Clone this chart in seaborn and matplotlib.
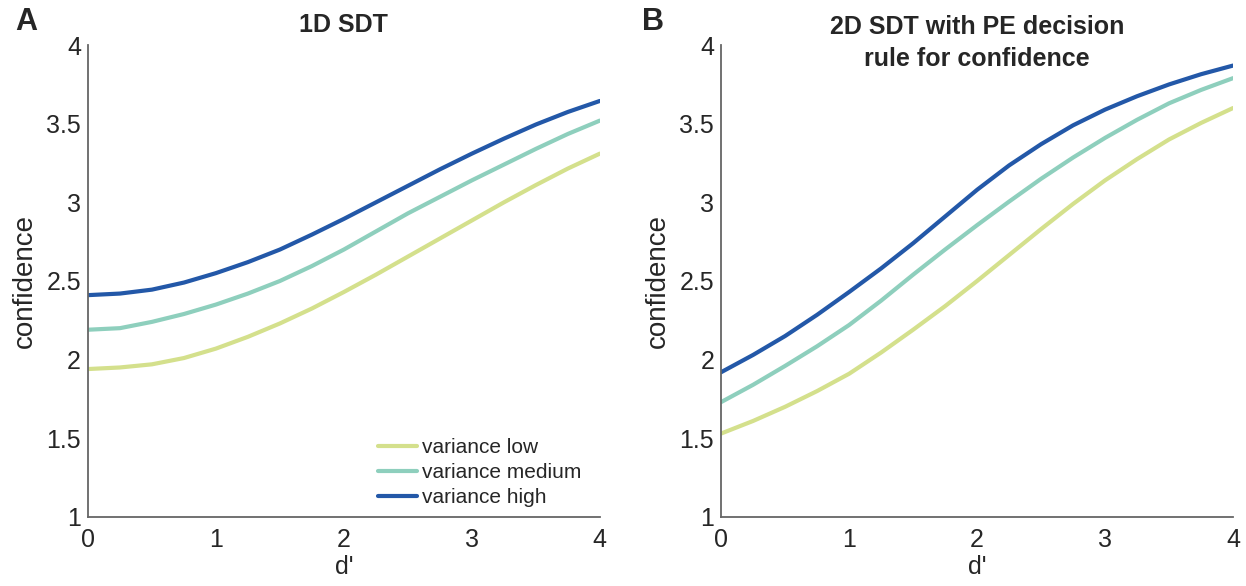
import numpy as np
import pandas as pd
import seaborn as sns
import matplotlib
matplotlib.use('Agg')
import matplotlib.pyplot as plt

# d' values at which the curves were read
dprime = [0, 0.25, 0.5, 0.75, 1, 1.25, 1.5, 1.75, 2, 2.25, 2.5, 2.75, 3, 3.25, 3.5, 3.75, 4]

conditions = ['variance low', 'variance medium', 'variance high']
colors = ['#d4e08c', '#8ecfbd', '#2358a8']

# panel A: 1D SDT
conf_1d_low = [1.94, 1.95, 1.97, 2.01, 2.07, 2.145, 2.23, 2.325, 2.43, 2.54, 2.655, 2.77, 2.885, 3.0, 3.11, 3.215, 3.31]
conf_1d_med = [2.19, 2.20, 2.24, 2.29, 2.35, 2.42, 2.50, 2.595, 2.70, 2.815, 2.93, 3.035, 3.14, 3.24, 3.34, 3.435, 3.52]
conf_1d_high = [2.41, 2.42, 2.445, 2.49, 2.55, 2.62, 2.70, 2.795, 2.895, 3.0, 3.105, 3.21, 3.31, 3.405, 3.495, 3.575, 3.645]

# panel B: 2D SDT, PE rule
conf_2d_low = [1.53, 1.61, 1.70, 1.80, 1.91, 2.045, 2.19, 2.34, 2.50, 2.665, 2.83, 2.99, 3.14, 3.275, 3.40, 3.505, 3.60]
conf_2d_med = [1.73, 1.84, 1.96, 2.085, 2.22, 2.375, 2.54, 2.70, 2.855, 3.005, 3.15, 3.285, 3.41, 3.525, 3.63, 3.715, 3.79]
conf_2d_high = [1.92, 2.03, 2.15, 2.285, 2.43, 2.58, 2.74, 2.91, 3.08, 3.235, 3.37, 3.49, 3.59, 3.675, 3.75, 3.815, 3.87]

yticks = [1, 1.5, 2, 2.5, 3, 3.5, 4]
yticklabels = ['1', '1.5', '2', '2.5', '3', '3.5', '4']
xticks = [0, 1, 2, 3, 4]


def long_df(low, med, high):
    frames = []
    for name, vals in zip(conditions, [low, med, high]):
        frames.append(pd.DataFrame({'dprime': dprime, 'confidence': vals, 'condition': name}))
    return pd.concat(frames, ignore_index=True)


def style_axis(ax, title, title_y):
    ax.set_xlim(0, 4)
    ax.set_ylim(1, 4)
    ax.set_xticks(xticks)
    ax.set_xticklabels([str(t) for t in xticks])
    ax.set_yticks(yticks)
    ax.set_yticklabels(yticklabels)
    ax.tick_params(direction='in', length=4, width=1.1, labelsize=18, color='#666666')
    ax.tick_params(axis='x', pad=8)
    ax.tick_params(axis='y', pad=5)
    for s in ['top', 'right']:
        ax.spines[s].set_visible(False)
    for s in ['left', 'bottom']:
        ax.spines[s].set_color('#666666')
        ax.spines[s].set_linewidth(1.3)
    ax.set_xlabel("d'", fontsize=18, labelpad=2)
    ax.set_ylabel('confidence', fontsize=20, labelpad=6)
    ax.text(0.5, title_y, title, transform=ax.transAxes, ha='center', va='center',
            fontsize=18, fontweight='bold', linespacing=1.4)


sns.set_style('white')
plt.rcParams['font.family'] = ['Liberation Sans', 'DejaVu Sans']

fig, (ax1, ax2) = plt.subplots(1, 2, figsize=(12.46, 5.86), dpi=100)
fig.subplots_adjust(left=0.0706, right=0.9896, top=0.923, bottom=0.118, wspace=0.237)

sns.lineplot(data=long_df(conf_1d_low, conf_1d_med, conf_1d_high), x='dprime', y='confidence',
             hue='condition', hue_order=conditions, palette=colors, linewidth=3, ax=ax1)
sns.lineplot(data=long_df(conf_2d_low, conf_2d_med, conf_2d_high), x='dprime', y='confidence',
             hue='condition', hue_order=conditions, palette=colors, linewidth=3, ax=ax2, legend=False)

style_axis(ax1, '1D SDT', 1.042)
style_axis(ax2, '2D SDT with PE decision\nrule for confidence', 1.005)

ax1.legend(loc='lower left', bbox_to_anchor=(0.566, 0.02), frameon=False, fontsize=15,
           handlelength=1.9, handletextpad=0.25, labelspacing=0.3, borderaxespad=0, borderpad=0)

fig.text(0.012, 0.962, 'A', fontsize=22, fontweight='bold', va='center')
fig.text(0.515, 0.962, 'B', fontsize=22, fontweight='bold', va='center')

plt.savefig('out.png', dpi=100)
